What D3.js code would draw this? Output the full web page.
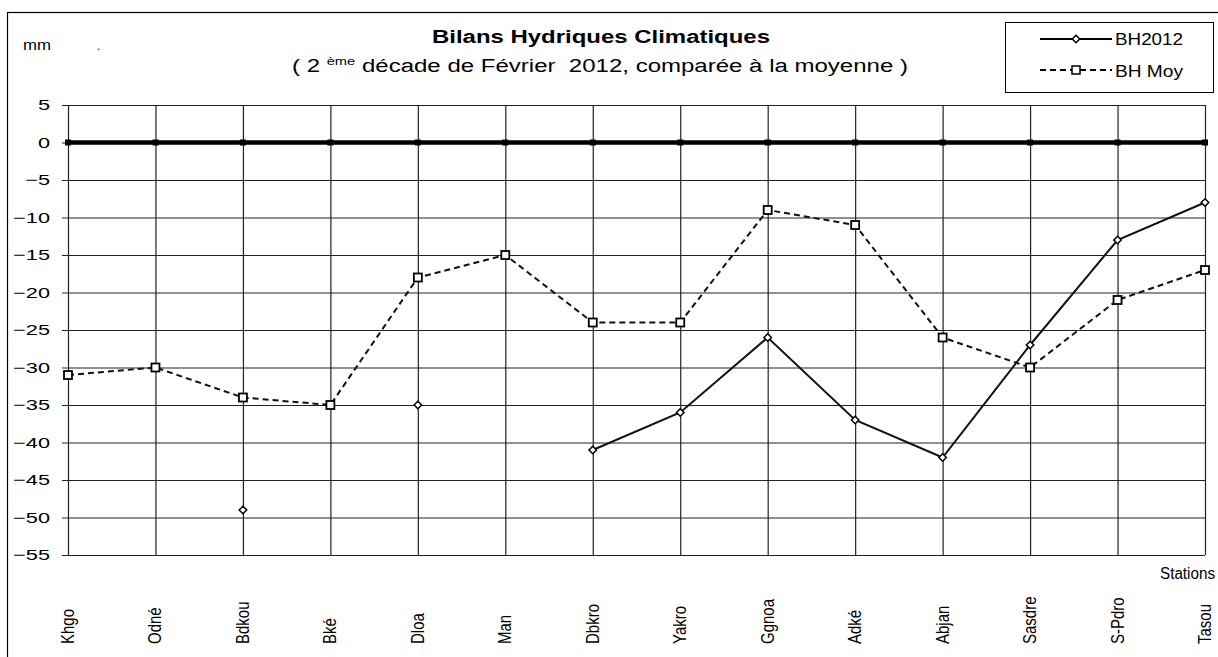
<!DOCTYPE html>
<html>
<head>
<meta charset="utf-8">
<script src="https://cdn.jsdelivr.net/npm/d3@7/dist/d3.min.js"></script>
<style>
  html, body { margin: 0; padding: 0; background: #fff; }
  svg { display: block; }
  text { font-family: Arial, "Liberation Sans", sans-serif; fill: #000; }
</style>
</head>
<body>
<svg id="chart" width="1218" height="657"></svg>
<script>
// Stations and water-balance values (mm)
const stations = ["Khgo", "Odné", "Bdkou", "Bké", "Dloa", "Man", "Dbkro", "Yakro",
                  "Ggnoa", "Adké", "Abjan", "Sasdre", "S-Pdro", "Tasou"];
const bh2012 = [null, null, -49, null, -35, null, -41, -36, -26, -37, -42, -27, -13, -8];
const bhMoy  = [-31, -30, -34, -35, -18, -15, -24, -24, -9, -11, -26, -30, -21, -17];
const zeroRef = [0, 0, 0, 0, 0, 0, 0, 0, 0, 0, 0, 0, 0, 0];
const yTicks = [5, 0, -5, -10, -15, -20, -25, -30, -35, -40, -45, -50, -55];

const svg = d3.select("#chart");
const plotL = 68, plotR = 1205, plotT = 105, plotB = 555;

const x = d3.scalePoint().domain(stations).range([plotL, plotR]);
const y = d3.scaleLinear().domain([-55, 5]).range([plotB, plotT]);

// stretch or squeeze a text run to a given advance width
function fitWidth(sel, w) {
  sel.attr("textLength", w).attr("lengthAdjust", "spacingAndGlyphs");
}
function widen(sel, k) {
  sel.each(function () {
    const n = d3.select(this);
    fitWidth(n, this.getComputedTextLength() * k);
  });
}

// outer frame
svg.append("rect").attr("x", 7.5).attr("y", 12.5).attr("width", 1230).attr("height", 660)
  .attr("fill", "none").attr("stroke", "#000").attr("stroke-width", 1.2);

// horizontal grid + y labels
const yAxis = svg.append("g").attr("transform", `translate(${plotL - 6},0)`)
  .call(d3.axisLeft(y).tickValues(yTicks).tickSizeInner(-(plotR - plotL + 6)).tickSizeOuter(0).tickPadding(12));
yAxis.select(".domain").remove();
yAxis.selectAll(".tick line").attr("stroke", "#222").attr("stroke-width", 1.2);
yAxis.selectAll(".tick text")
  .attr("font-family", "Arial, 'Liberation Sans', sans-serif")
  .attr("font-size", 15).attr("fill", "#111")
  .call(widen, 1.45);

// vertical grid
const xAxis = svg.append("g").attr("transform", `translate(0,${plotB})`)
  .call(d3.axisBottom(x).tickSizeInner(-(plotB - plotT)).tickSizeOuter(0).tickFormat(""));
xAxis.select(".domain").remove();
xAxis.selectAll(".tick line").attr("stroke", "#222").attr("stroke-width", 1.2);

// station labels, rotated
svg.append("g").selectAll("text").data(stations).join("text")
  .attr("transform", d => `translate(${x(d) + 6},644) scale(1.2,1) rotate(-90)`)
  .attr("text-anchor", "start")
  .attr("font-size", 15).attr("fill", "#111")
  .text(d => d);

svg.append("text").attr("x", 1215).attr("y", 579).attr("text-anchor", "end")
  .attr("font-size", 16).attr("fill", "#111").text("Stations")
  .call(fitWidth, 55);

// zero reference line
svg.append("line").attr("x1", plotL).attr("x2", plotR).attr("y1", y(0)).attr("y2", y(0))
  .attr("stroke", "#000").attr("stroke-width", 4.5);
svg.append("g").selectAll("rect").data(zeroRef).join("rect")
  .attr("x", (d, i) => x(stations[i]) - 3).attr("y", d => y(d) - 3)
  .attr("width", 6).attr("height", 6).attr("fill", "#000");

// series
const idx = stations.map((s, i) => i);
const line = arr => d3.line()
  .defined(i => arr[i] !== null)
  .x(i => x(stations[i]))
  .y(i => y(arr[i]))(idx);

svg.append("path").attr("d", line(bhMoy)).attr("fill", "none")
  .attr("stroke", "#111").attr("stroke-width", 2).attr("stroke-dasharray", "6,4");
svg.append("path").attr("d", line(bh2012)).attr("fill", "none")
  .attr("stroke", "#111").attr("stroke-width", 2);

const sq = 8;
svg.append("g").selectAll("rect").data(idx.filter(i => bhMoy[i] !== null)).join("rect")
  .attr("x", i => x(stations[i]) - sq / 2).attr("y", i => y(bhMoy[i]) - sq / 2)
  .attr("width", sq).attr("height", sq)
  .attr("fill", "#fff").attr("stroke", "#000").attr("stroke-width", 1.8);

const diamond = d3.symbol().type(d3.symbolDiamond2).size(36);
svg.append("g").selectAll("path").data(idx.filter(i => bh2012[i] !== null)).join("path")
  .attr("d", diamond)
  .attr("transform", i => `translate(${x(stations[i])},${y(bh2012[i])})`)
  .attr("fill", "#fff").attr("stroke", "#000").attr("stroke-width", 1.5);

// titles
svg.append("text").attr("x", 601).attr("y", 43).attr("text-anchor", "middle")
  .attr("font-size", 18).attr("font-weight", "bold")
  .text("Bilans Hydriques Climatiques")
  .call(fitWidth, 338);
const sub = svg.append("text").attr("x", 600).attr("y", 72).attr("text-anchor", "middle")
  .attr("font-size", 18);
sub.append("tspan").text("( 2 ");
sub.append("tspan").attr("dy", -7).attr("font-size", 11).text("ème");
sub.append("tspan").attr("dy", 7).text(" décade de Février\u00a0 2012, comparée à la moyenne )");
fitWidth(sub, 616);

svg.append("text").attr("x", 23).attr("y", 50).attr("font-size", 14).text("mm")
  .call(fitWidth, 28);
svg.append("text").attr("x", 97).attr("y", 50).attr("font-size", 12).text(".");

// legend
const lg = svg.append("g");
lg.append("rect").attr("x", 1005.5).attr("y", 22.5).attr("width", 208).attr("height", 70)
  .attr("fill", "#fff").attr("stroke", "#000").attr("stroke-width", 1);
lg.append("line").attr("x1", 1040).attr("x2", 1112).attr("y1", 39).attr("y2", 39)
  .attr("stroke", "#000").attr("stroke-width", 2);
lg.append("path").attr("d", diamond).attr("transform", "translate(1076,39)")
  .attr("fill", "#fff").attr("stroke", "#000").attr("stroke-width", 1.5);
lg.append("line").attr("x1", 1040).attr("x2", 1112).attr("y1", 70).attr("y2", 70)
  .attr("stroke", "#000").attr("stroke-width", 2).attr("stroke-dasharray", "6,4");
lg.append("rect").attr("x", 1072).attr("y", 66).attr("width", 8).attr("height", 8)
  .attr("fill", "#fff").attr("stroke", "#000").attr("stroke-width", 1.5);
lg.append("text").attr("x", 1115).attr("y", 45).attr("font-size", 16).text("BH2012")
  .call(fitWidth, 68);
lg.append("text").attr("x", 1115).attr("y", 77).attr("font-size", 16).text("BH Moy")
  .call(fitWidth, 68);
</script>
</body>
</html>
